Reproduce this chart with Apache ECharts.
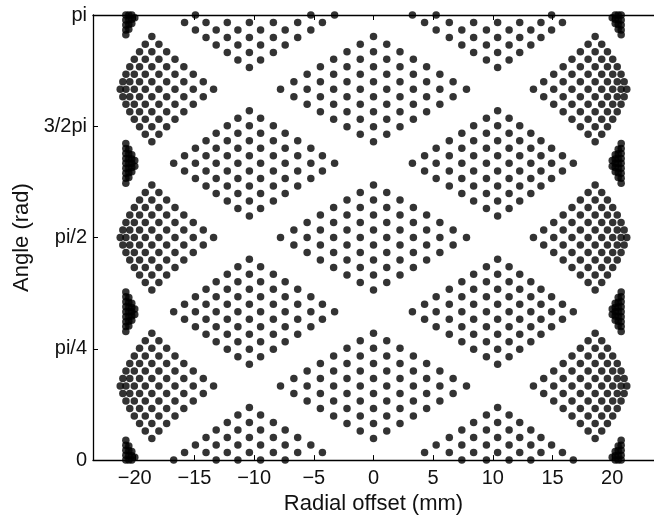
<!DOCTYPE html>
<html>
<head>
<meta charset="utf-8">
<script src="https://cdn.jsdelivr.net/npm/echarts@6/dist/echarts.min.js"></script>
<style>html,body{margin:0;padding:0;background:#fff;overflow:hidden}#c{width:654px;height:520px}</style>
</head>
<body>
<div id="c"></div>
<script>
// ---- data (x in mm, angle in rad) ----
const xTickValues = [-20, -15, -10, -5, 0, 5, 10, 15, 20];
const yTickLabels = ['0', 'pi/4', 'pi/2', '3/2pi', 'pi'];

// row offsets (rad) of the 15 rows of each diamond, from bottom to top
const rowOffsets = [-0.371, -0.318, -0.265, -0.212, -0.159, -0.106, -0.053, 0, 0.053, 0.106, 0.159, 0.212, 0.265, 0.318, 0.371];

// column positions (mm) of the 15 columns of each diamond
const centerCols = [-7.79, -6.67, -5.56, -4.45, -3.34, -2.22, -1.11, 0, 1.11, 2.22, 3.34, 4.45, 5.56, 6.67, 7.79];
const innerColsR = [3.26, 4.28, 5.25, 6.35, 7.40, 8.39, 9.46, 10.40, 11.36, 12.25, 13.18, 14.03, 14.92, 15.83, 16.74];
const innerColsL = [-3.26, -4.28, -5.25, -6.35, -7.40, -8.39, -9.46, -10.40, -11.36, -12.25, -13.18, -14.03, -14.92, -15.83, -16.74];
const fanColsR = [13.40, 14.26, 15.10, 15.89, 16.63, 17.33, 17.98, 18.57, 19.12, 19.60, 20.04, 20.42, 20.74, 21.00, 21.22];
const fanColsL = [-13.40, -14.26, -15.10, -15.89, -16.63, -17.33, -17.98, -18.57, -19.12, -19.60, -20.04, -20.42, -20.74, -21.00, -21.22];

// centres (rad) of the diamonds
const centralAngles = [0.5236, 1.5708, 2.6180];   // central diamonds and fans
const innerAngles = [1.0472, 2.0944];             // inner diamonds and edge clusters

// dense edge clusters (right side; left side mirrored): x in mm, angle offset in rad
const clusterXR = [20.75, 20.75, 20.75, 20.75, 20.75, 20.75, 20.75, 20.75, 20.75,
                   20.50, 20.50, 20.50, 20.50, 20.50, 20.50, 20.50,
                   20.25, 20.25, 20.25, 20.25, 20.25,
                   20.00, 20.00];
const clusterXL = [-20.75, -20.75, -20.75, -20.75, -20.75, -20.75, -20.75, -20.75, -20.75,
                   -20.50, -20.50, -20.50, -20.50, -20.50, -20.50, -20.50,
                   -20.25, -20.25, -20.25, -20.25, -20.25,
                   -20.00, -20.00];
const clusterDy = [-0.14, -0.105, -0.07, -0.035, 0, 0.035, 0.07, 0.105, 0.14,
                   -0.10, -0.067, -0.033, 0, 0.033, 0.067, 0.10,
                   -0.06, -0.03, 0, 0.03, 0.06,
                   -0.02, 0.02];

// dots lying on the bottom (angle 0) and top (angle pi) borders
const bottomEdgeX = [-16.74, -13.18, -11.36, -9.46, -7.40, 7.40, 9.46, 11.36, 13.18, 16.74];
const topEdgeX = [-14.92, -5.25, -3.26, 3.26, 5.25, 14.92];

const PI = 3.14159265;
const pts = [];
function inDiamond(j, mi) {
  const d = j - 7, m = mi - 7;
  return Math.abs(d) + Math.abs(m) <= 7 && Math.abs(d + m) % 2 === 1;
}
function diamond(cols, c) {
  for (let j = 0; j < 15; j++) for (let mi = 0; mi < 15; mi++)
    if (inDiamond(j, mi)) pts.push([cols[j], c + rowOffsets[mi]]);
}
centralAngles.forEach(c => { diamond(centerCols, c); diamond(fanColsR, c); diamond(fanColsL, c); });
innerAngles.forEach(c => { diamond(innerColsR, c); diamond(innerColsL, c); });
// diamonds centred on angle 0 wrap to angle pi with mirrored offset
[innerColsR, innerColsL].forEach(cols => {
  for (let j = 0; j < 15; j++) for (let mi = 0; mi < 15; mi++) {
    if (!inDiamond(j, mi) || mi === 7) continue;
    if (mi > 7) pts.push([cols[j], rowOffsets[mi]]);
    else pts.push([-cols[j], PI + rowOffsets[mi]]);
  }
});
bottomEdgeX.forEach(x => pts.push([x, 0]));
topEdgeX.forEach(x => pts.push([x, PI]));
// clusters
[clusterXR, clusterXL].forEach(xs => {
  innerAngles.forEach(c => xs.forEach((x, i) => pts.push([x, c + clusterDy[i]])));
  xs.forEach((x, i) => {
    if (clusterDy[i] >= 0) pts.push([x, clusterDy[i]]);
    if (clusterDy[i] <= 0) pts.push([-x, PI + clusterDy[i]]);
  });
});

const font = 'Liberation Sans, Arial, Helvetica, sans-serif';
const chart = echarts.init(document.getElementById('c'), null, {renderer: 'canvas', width: 654, height: 520});
const axisLine = {show: true, onZero: false, lineStyle: {color: '#000', width: 1.3}};
const tick = {show: true, inside: true, length: 5, lineStyle: {color: '#000', width: 1}};
const xMin = -23.5, xMax = 23.5;
chart.setOption({
  animation: false,
  backgroundColor: '#fff',
  grid: {left: 93, top: 15, width: 569, height: 448, containLabel: false},
  xAxis: [{
    type: 'value', min: xMin, max: xMax, position: 'bottom',
    axisLine: axisLine, splitLine: {show: false},
    axisTick: Object.assign({}, tick, {customValues: xTickValues}),
    axisLabel: {customValues: xTickValues, color: '#111', fontFamily: font, fontSize: 20, margin: 8,
      formatter: v => v < 0 ? '\u2212' + Math.abs(v) : String(v)},
    name: 'Radial offset (mm)', nameLocation: 'middle', nameGap: 29,
    nameTextStyle: {color: '#111', fontFamily: font, fontSize: 22}
  }, {
    type: 'value', min: xMin, max: xMax, position: 'top',
    axisLine: axisLine, splitLine: {show: false},
    axisTick: Object.assign({}, tick, {customValues: xTickValues}),
    axisLabel: {show: false}
  }],
  yAxis: [{
    type: 'value', min: 0, max: PI, interval: PI / 4, position: 'left',
    axisLine: axisLine, splitLine: {show: false}, axisTick: tick,
    axisLabel: {color: '#111', fontFamily: font, fontSize: 20, margin: 6,
      formatter: v => yTickLabels[Math.round(v / (PI / 4))] || ''},
    name: 'Angle (rad)', nameLocation: 'middle', nameGap: 56, nameRotate: 90,
    nameTextStyle: {color: '#111', fontFamily: font, fontSize: 22}
  }],
  series: [{
    type: 'scatter', data: pts, symbol: 'circle', symbolSize: 7.5, clip: false,
    itemStyle: {color: '#000'}, silent: true
  }]
});
</script>
</body>
</html>
